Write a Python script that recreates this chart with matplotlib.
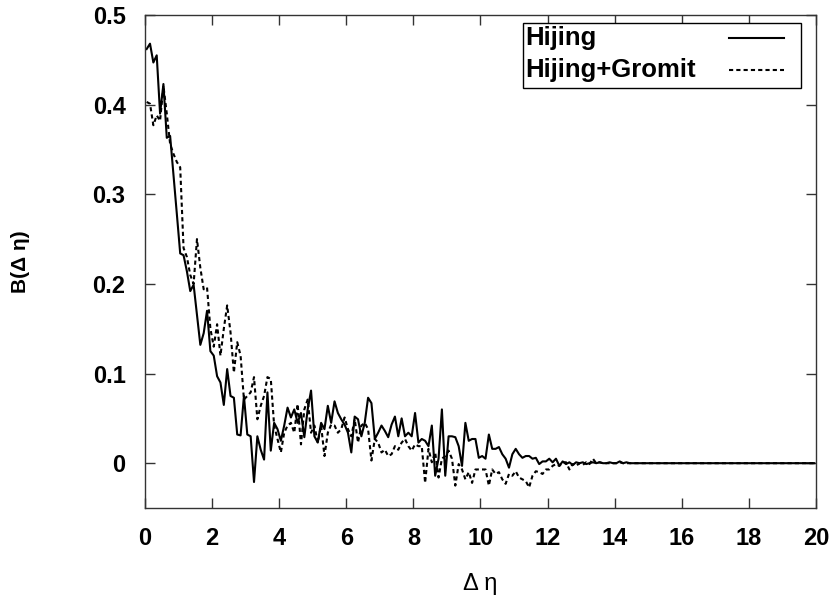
import matplotlib
matplotlib.use('Agg')
import matplotlib.pyplot as plt
from matplotlib.patches import Rectangle
import numpy as np

plt.rcParams['font.family'] = ['Liberation Sans', 'DejaVu Sans']

# bin centres in delta eta
deta = np.arange(0.05, 20.0, 0.1)

# Hijing (solid)
hijing = [
    0.462, 0.468, 0.447, 0.455, 0.390, 0.423, 0.363, 0.365, 0.322, 0.278,
    0.234, 0.232, 0.214, 0.192, 0.199, 0.166, 0.132, 0.145, 0.170, 0.125,
    0.120, 0.097, 0.090, 0.065, 0.105, 0.075, 0.073, 0.032, 0.031, 0.075,
    0.032, 0.030, -0.021, 0.030, 0.015, 0.004, 0.079, 0.014, 0.045, 0.038,
    0.025, 0.042, 0.062, 0.051, 0.060, 0.045, 0.056, 0.029, 0.060, 0.081,
    0.030, 0.023, 0.045, 0.038, 0.064, 0.045, 0.069, 0.056, 0.049, 0.043,
    0.034, 0.012, 0.052, 0.049, 0.030, 0.045, 0.073, 0.067, 0.027, 0.034,
    0.042, 0.036, 0.029, 0.043, 0.052, 0.030, 0.050, 0.030, 0.034, 0.030,
    0.056, 0.023, 0.027, 0.025, 0.019, 0.042, -0.014, 0.005, 0.060, -0.014,
    0.030, 0.030, 0.029, 0.019, -0.003, 0.045, 0.025, 0.027, 0.027, 0.006,
    0.008, 0.005, 0.032, 0.016, 0.016, 0.018, 0.010, 0.005, -0.005, 0.010,
    0.016, 0.010, 0.006, 0.008, 0.008, 0.005, 0.006, -0.001, 0.002, 0.002,
    0.005, 0.001, 0.005, -0.003, 0.002, -0.001, 0.001, -0.002, 0.001, 0.000,
    0.001, -0.001, 0.000, 0.001, 0.000, 0.001, 0.000, 0.000, 0.001, 0.000,
    0.000, 0.002, 0.000, 0.001, 0.000, 0.000, 0.000, 0.000, 0.000, 0.000,
] + [0.0] * 50

# Hijing+Gromit (dashed)
gromit = [
    0.403, 0.401, 0.377, 0.388, 0.382, 0.421, 0.390, 0.356, 0.345, 0.336,
    0.330, 0.240, 0.230, 0.210, 0.200, 0.250, 0.218, 0.194, 0.196, 0.150,
    0.130, 0.155, 0.120, 0.150, 0.176, 0.146, 0.101, 0.135, 0.120, 0.071,
    0.075, 0.079, 0.096, 0.049, 0.064, 0.075, 0.096, 0.094, 0.042, 0.027,
    0.012, 0.034, 0.042, 0.045, 0.034, 0.066, 0.021, 0.060, 0.071, 0.034,
    0.042, 0.023, 0.042, 0.008, 0.034, 0.043, 0.042, 0.034, 0.038, 0.051,
    0.038, 0.030, 0.049, 0.023, 0.042, 0.045, 0.038, 0.003, 0.027, 0.023,
    0.012, 0.015, 0.008, 0.010, 0.019, 0.015, 0.023, 0.027, 0.019, 0.014,
    0.021, 0.019, 0.019, -0.022, 0.016, 0.001, 0.012, -0.016, 0.005, 0.008,
    0.014, 0.005, -0.025, -0.001, -0.007, -0.018, -0.010, -0.022, -0.007, -0.007,
    -0.007, -0.007, -0.025, -0.007, -0.012, -0.010, -0.018, -0.023, -0.012, -0.014,
    -0.009, -0.016, -0.018, -0.020, -0.027, -0.014, -0.009, -0.010, -0.012, -0.007,
    -0.007, -0.003, -0.001, -0.003, 0.001, 0.001, -0.007, -0.001, -0.003, 0.000,
    -0.002, 0.001, -0.001, 0.005, 0.000, 0.001, 0.000, 0.000, 0.000, 0.000,
    0.000, 0.001, 0.000, 0.000, 0.000, 0.000, 0.000, 0.000, 0.000, 0.000,
] + [0.0] * 50

labels = ['Hijing', 'Hijing+Gromit']
styles = ['-', (0, (2, 1.5))]

xticks = [0, 2, 4, 6, 8, 10, 12, 14, 16, 18, 20]
yticks = [0, 0.1, 0.2, 0.3, 0.4, 0.5]
ytick_labels = ['0', '0.1', '0.2', '0.3', '0.4', '0.5']

fig = plt.figure(figsize=(8.37, 5.95), dpi=100)
ax = fig.add_axes([0.1732, 0.1462, 0.8017, 0.8286])

ax.plot(deta, hijing, color='black', linewidth=1.5, linestyle=styles[0])
ax.plot(deta, gromit, color='black', linewidth=1.5, linestyle=styles[1])

ax.set_xlim(0, 20)
ax.set_ylim(-0.05, 0.5)
ax.set_xticks(xticks)
ax.set_xticklabels([str(v) for v in xticks])
ax.set_yticks(yticks)
ax.set_yticklabels(ytick_labels)

ax.tick_params(direction='in', length=7, width=1, color='#333333',
               top=True, right=True, labelsize=17, pad=14)
for lab in ax.get_xticklabels() + ax.get_yticklabels():
    lab.set_fontweight('bold')
for sp in ax.spines.values():
    sp.set_color('#333333')
    sp.set_linewidth(1)

ax.set_xlabel('Δ η', fontsize=17, labelpad=16)
ax.set_ylabel('B(Δ η)', fontsize=15, fontweight='bold', labelpad=45)

# gnuplot-style key: text left, line sample right
ax.add_patch(Rectangle((0.563, 0.852), 0.4146, 0.1324, transform=ax.transAxes,
                       facecolor='white', edgecolor='black', linewidth=1, zorder=5))
row_y = [0.953, 0.888]
for lab, ls, yy in zip(labels, styles, row_y):
    ax.text(0.566, yy, lab, transform=ax.transAxes, fontsize=18.5,
            fontweight='bold', ha='left', va='center', zorder=6)
    ax.plot([0.870, 0.952], [yy, yy], transform=ax.transAxes, color='black',
            linewidth=1.5, linestyle=ls, zorder=6)

fig.savefig('out.png', dpi=100)
